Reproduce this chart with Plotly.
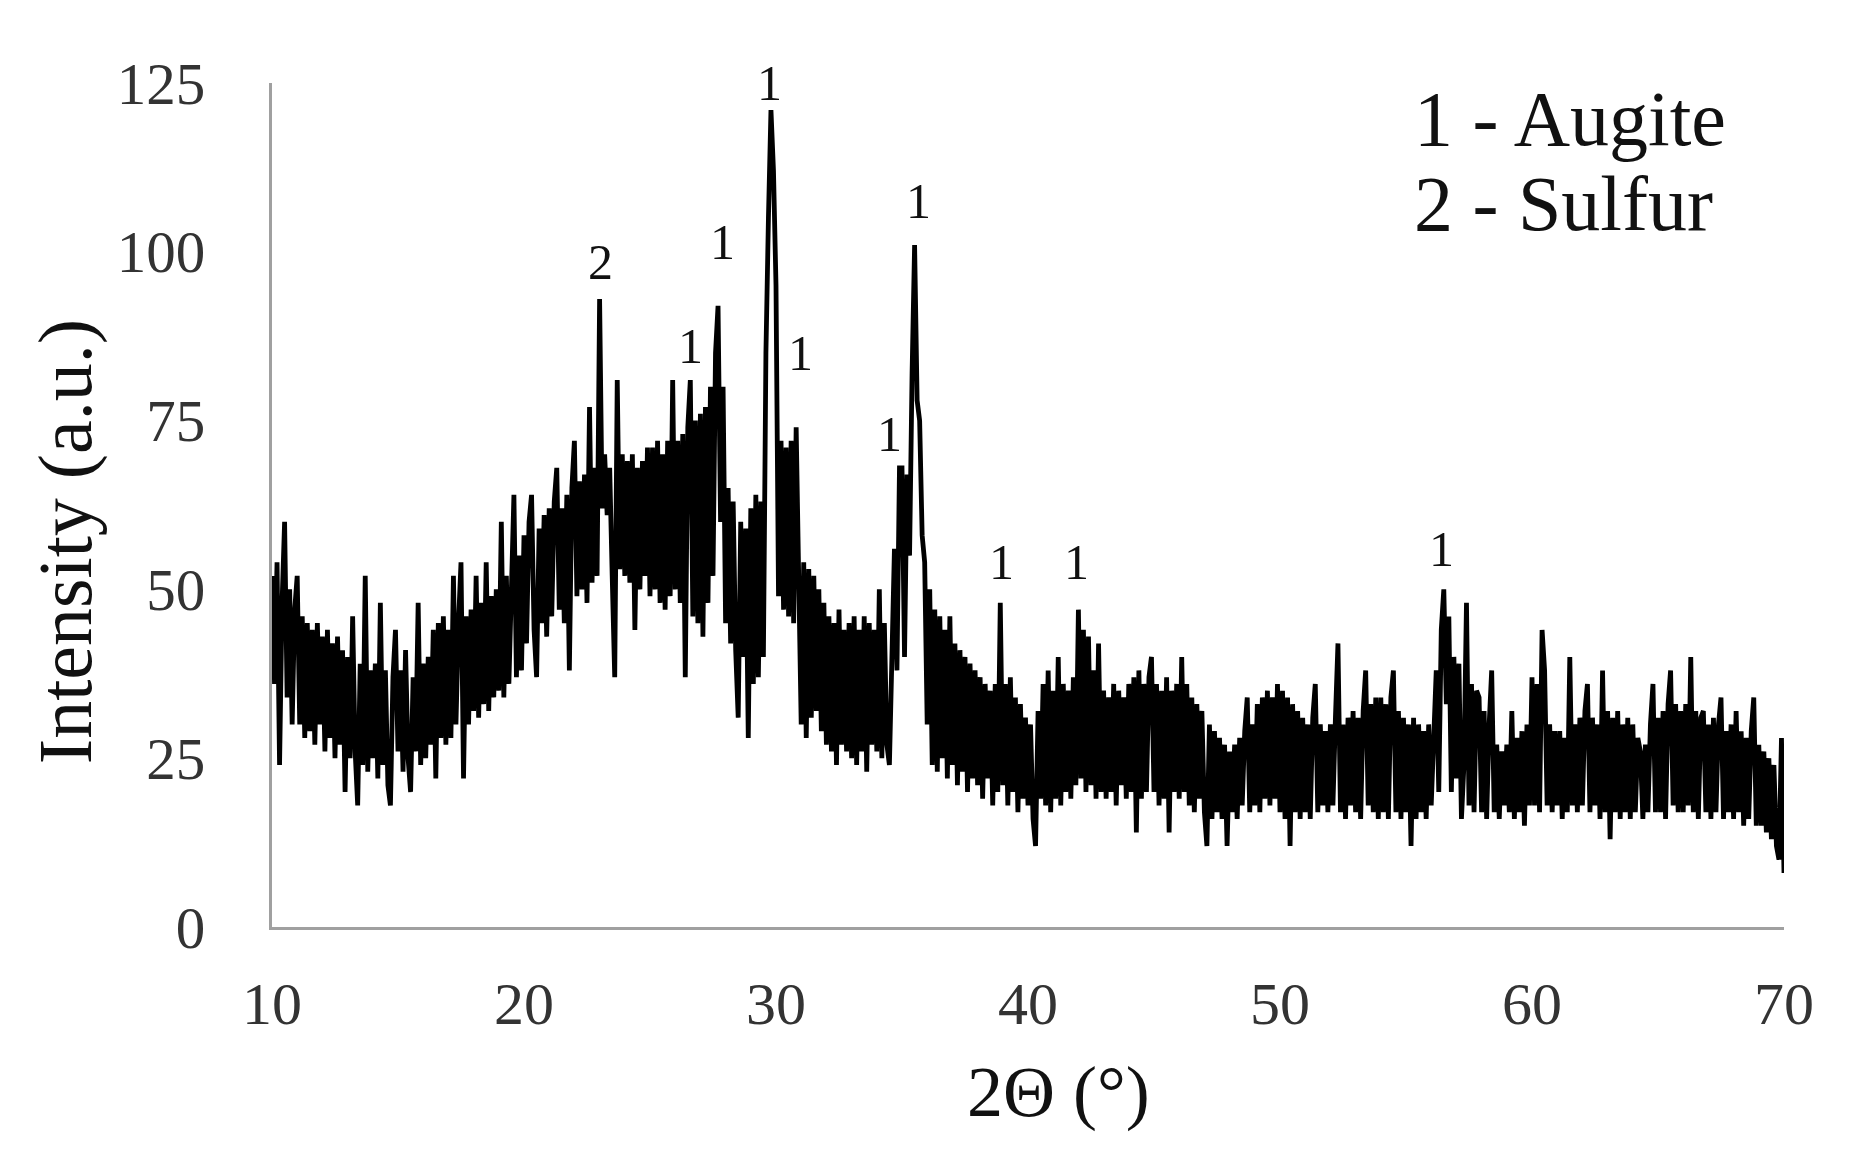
import plotly.graph_objects as go

# XRD pattern, 0.1 deg steps, one row per degree
counts_10_20 = [
    52, 36, 54, 24, 48, 60, 34, 50, 30, 47,
    52, 30, 46, 28, 45, 29, 44, 27, 45, 30,
    43, 26, 44, 28, 42, 25, 43, 27, 41, 20,
    40, 25, 46, 26, 18, 39, 24, 52, 23, 38,
    25, 39, 22, 48, 24, 38, 21, 18, 37, 44,
    26, 38, 23, 41, 25, 20, 37, 26, 48, 24,
    39, 25, 40, 27, 44, 22, 45, 28, 46, 27,
    44, 28, 52, 30, 45, 54, 22, 46, 30, 47,
    32, 52, 31, 48, 33, 54, 32, 49, 34, 50,
    35, 60, 34, 52, 36, 54, 64, 37, 55, 38,
]
counts_20_30 = [
    58, 42, 60, 64, 44, 37, 59, 45, 61, 43,
    62, 46, 63, 68, 47, 62, 45, 64, 38, 65,
    72, 49, 66, 50, 67, 48, 77, 51, 68, 52,
    93, 62, 70, 61, 68, 52, 37, 81, 53, 70,
    52, 69, 51, 70, 44, 68, 50, 69, 52, 71,
    49, 71, 50, 72, 48, 70, 47, 72, 49, 81,
    50, 72, 48, 73, 37, 74, 81, 46, 75, 45,
    76, 43, 77, 48, 80, 52, 85, 92, 60, 80,
    45, 65, 42, 63, 41, 31, 60, 40, 59, 28,
    62, 36, 64, 37, 63, 40, 85, 105, 121, 112,
]
counts_30_40 = [
    95, 49, 72, 47, 71, 46, 72, 45, 74, 52,
    30, 54, 28, 53, 31, 52, 32, 50, 29, 48,
    27, 46, 26, 45, 24, 47, 27, 44, 26, 45,
    25, 46, 24, 44, 26, 46, 23, 45, 27, 44,
    26, 50, 25, 45, 27, 24, 40, 56, 38, 68,
    68, 40, 67, 55, 82, 101, 78, 75, 58, 54,
    30, 50, 24, 47, 23, 46, 25, 44, 22, 46,
    24, 42, 21, 41, 23, 40, 20, 39, 22, 38,
    21, 37, 19, 36, 22, 35, 18, 36, 20, 48,
    21, 36, 18, 37, 20, 34, 17, 33, 19, 31,
]
counts_40_50 = [
    18, 30, 16, 12, 32, 19, 36, 18, 38, 17,
    35, 19, 40, 18, 36, 20, 35, 19, 37, 21,
    47, 22, 44, 20, 43, 21, 38, 19, 42, 20,
    35, 19, 34, 20, 36, 18, 35, 21, 34, 19,
    36, 20, 37, 14, 38, 19, 36, 20, 37, 40,
    20, 36, 18, 35, 19, 37, 14, 35, 20, 36,
    19, 40, 20, 36, 18, 34, 17, 33, 19, 32,
    17, 12, 30, 16, 29, 17, 28, 16, 27, 12,
    26, 17, 27, 16, 28, 18, 29, 34, 17, 30,
    18, 33, 17, 34, 19, 35, 18, 34, 19, 36,
]
counts_50_60 = [
    17, 35, 16, 34, 12, 33, 17, 32, 16, 31,
    17, 30, 16, 31, 36, 17, 30, 18, 29, 17,
    30, 18, 31, 42, 17, 30, 16, 31, 18, 32,
    17, 31, 16, 32, 38, 18, 33, 17, 34, 16,
    34, 17, 33, 16, 34, 38, 17, 32, 16, 31,
    17, 30, 12, 31, 16, 30, 17, 29, 16, 30,
    18, 31, 38, 20, 44, 50, 33, 46, 20, 40,
    22, 39, 16, 24, 48, 18, 36, 17, 35, 34,
    17, 32, 16, 30, 38, 17, 27, 16, 26, 18,
    27, 17, 32, 16, 28, 17, 29, 15, 30, 18,
]
counts_60_70 = [
    37, 18, 36, 17, 44, 38, 18, 30, 17, 29,
    18, 29, 16, 28, 17, 40, 18, 30, 17, 31,
    18, 32, 36, 17, 31, 18, 30, 16, 38, 17,
    32, 13, 31, 17, 32, 16, 30, 17, 31, 16,
    30, 17, 28, 26, 16, 27, 17, 30, 36, 17,
    31, 17, 32, 16, 33, 38, 18, 33, 17, 32,
    17, 33, 18, 40, 17, 32, 16, 31, 32, 17,
    30, 16, 31, 17, 30, 34, 16, 29, 17, 30,
    16, 32, 17, 29, 15, 28, 16, 29, 34, 15,
    27, 15, 26, 14, 25, 13, 24, 12, 10, 28,
    8,
]

# phase labels above the peaks: position (2theta, intensity) and phase number
peak_pos = [23.03, 26.6, 27.86, 29.74, 30.96, 34.5, 35.64, 38.93, 41.93, 56.4]
peak_lbl_y = [98.5, 86, 101.5, 125, 85, 73, 107.5, 54, 54, 56]
peak_phase = ['2', '1', '1', '1', '1', '1', '1', '1', '1', '1']

legend_lines = ['1 - Augite', '2 - Sulfur']

y_ticks = [0, 25, 50, 75, 100, 125]
x_ticks = [10, 20, 30, 40, 50, 60, 70]

SERIF = 'Liberation Serif, Times New Roman, serif'

intensity = (counts_10_20 + counts_20_30 + counts_30_40 +
             counts_40_50 + counts_50_60 + counts_60_70)
two_theta = [round(10 + i / 10, 1) for i in range(len(intensity))]

fig = go.Figure(go.Scatter(
    x=two_theta, y=intensity, mode='lines',
    line=dict(color='black', width=4.8),
    showlegend=False,
))

for xp, yp, t in zip(peak_pos, peak_lbl_y, peak_phase):
    fig.add_annotation(x=xp, y=yp, text=t, showarrow=False,
                       font=dict(family=SERIF, size=50, color='#111'),
                       xanchor='center', yanchor='middle')

for i, t in enumerate(legend_lines):
    fig.add_annotation(x=55.25, y=119.8 - i * 12.6, text=t, showarrow=False,
                       font=dict(family=SERIF, size=78, color='#111'),
                       xanchor='left', yanchor='middle')

# axis titles placed as paper annotations to match the original offsets
fig.add_annotation(x=0.5205, y=-0.196, xref='paper', yref='paper',
                   text='2Θ (°)', showarrow=False,
                   font=dict(family=SERIF, size=72, color='#111'),
                   xanchor='center', yanchor='middle')
fig.add_annotation(x=-0.137, y=0.457, xref='paper', yref='paper',
                   text='Intensity (a.u.)', showarrow=False, textangle=-90,
                   font=dict(family=SERIF, size=76, color='#111'),
                   xanchor='center', yanchor='middle')

# page adds ~8px body margin, so the plot box is shifted back by that much
fig.update_layout(
    width=1852, height=1158,
    paper_bgcolor='white', plot_bgcolor='white',
    margin=dict(l=264, r=76, t=75, b=239),
    font=dict(family=SERIF, color='#333'),
)
fig.update_xaxes(
    range=[10, 70], tickvals=x_ticks, showgrid=False, zeroline=False,
    showline=True, linecolor='#a0a0a0', linewidth=3, ticks='',
    tickfont=dict(family=SERIF, size=60, color='#333'), ticklabelstandoff=22,
    automargin=False,
)
fig.update_yaxes(
    range=[0, 125], tickvals=y_ticks, showgrid=False, zeroline=False,
    showline=True, linecolor='#a0a0a0', linewidth=3, ticks='',
    tickfont=dict(family=SERIF, size=59, color='#333'), ticklabelstandoff=52,
    automargin=False,
)

fig.write_html("out.html")
